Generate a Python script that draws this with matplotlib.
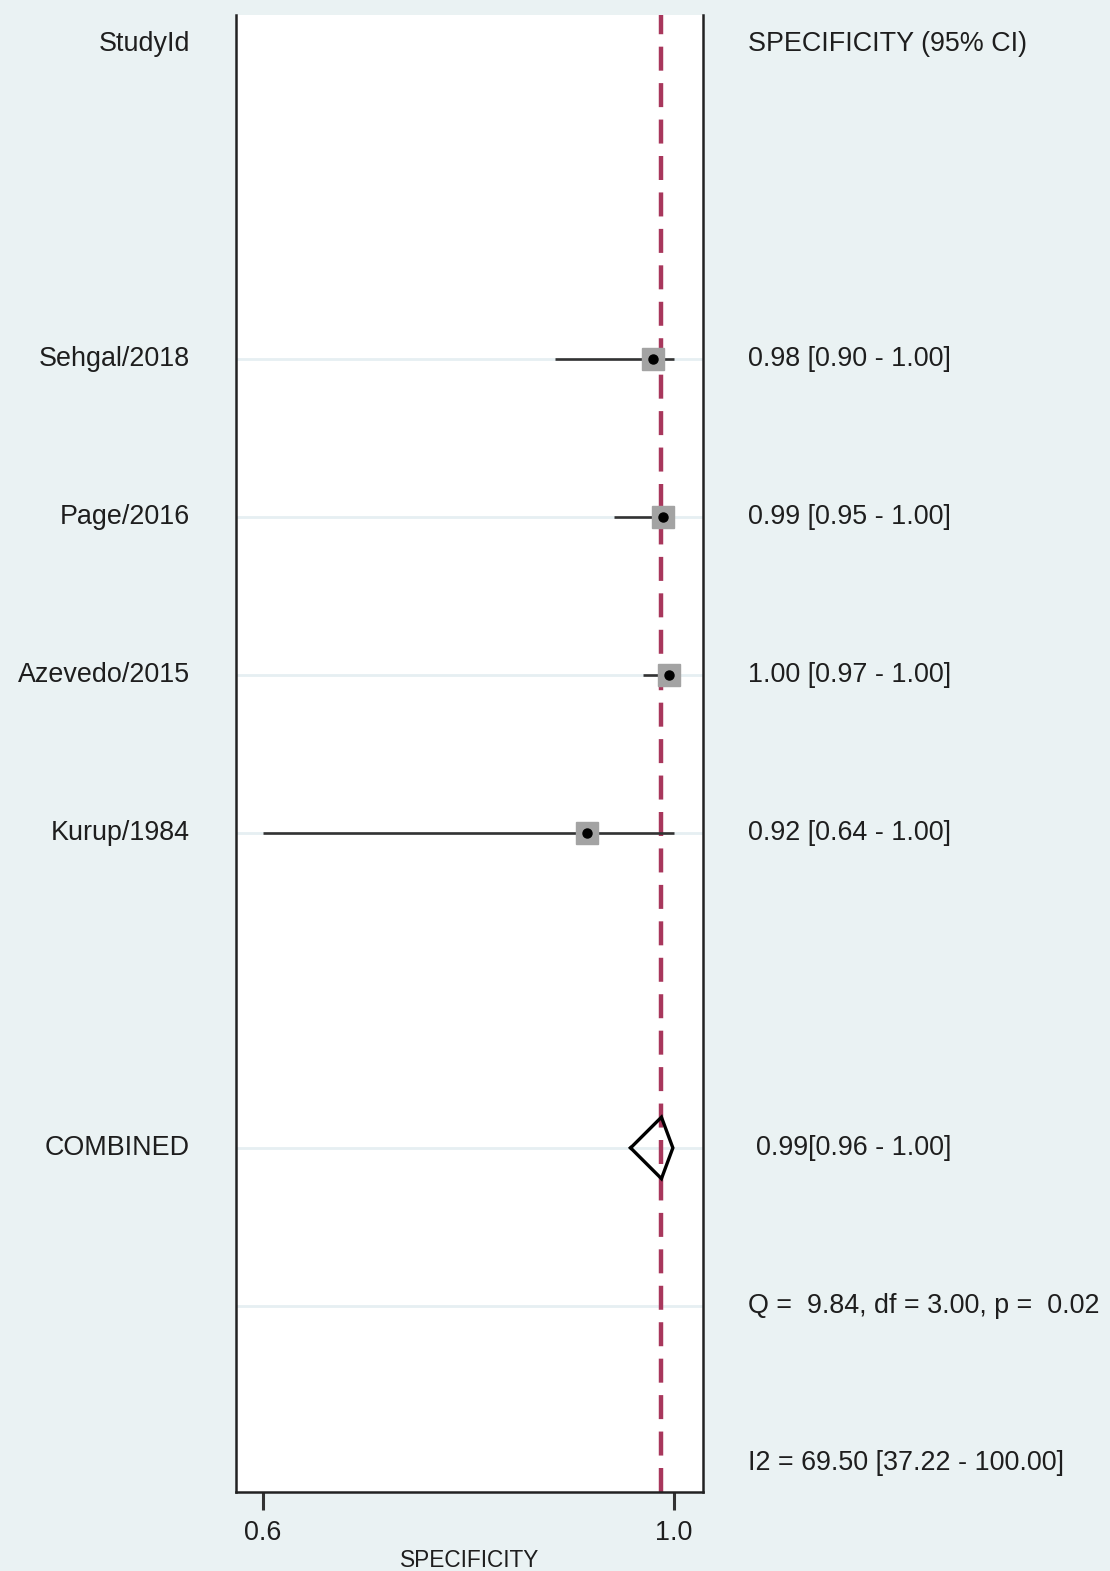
import matplotlib
matplotlib.use("Agg")
import matplotlib.pyplot as plt
from matplotlib.transforms import blended_transform_factory

plt.rcParams['font.family'] = ['Liberation Sans', 'DejaVu Sans']

# Study-level specificity estimates with 95% confidence limits
studies = ["Sehgal/2018", "Page/2016", "Azevedo/2015", "Kurup/1984"]
spec = [0.982, 0.990, 0.996, 0.924]
spec_lo = [0.896, 0.947, 0.973, 0.640]
spec_hi = [1.000, 1.000, 1.000, 1.000]

# Pooled (combined) estimate
pooled = 0.989
pooled_lo = 0.962
pooled_hi = 0.999

# Heterogeneity statistics
q_stat, q_df, q_p = 9.84, 3.00, 0.02
i2, i2_lo, i2_hi = 69.50, 37.22, 100.00

BG = "#EAF2F3"
TXT = "#1e1e1e"
FS = 19.4

W, H = 1110, 1571
fig = plt.figure(figsize=(W / 100, H / 100), dpi=100, facecolor=BG)

# plot box in pixel terms
left_px, right_px, top_px, bot_px = 236, 703, 15, 1492
ax = fig.add_axes([left_px / W, 1 - bot_px / H,
                   (right_px - left_px) / W, (bot_px - top_px) / H])
ax.set_facecolor("white")

# row layout: 0 header, 2..5 studies, 7 combined, 8 Q, 9 I2
study_rows = [2, 3, 4, 5]
comb_row, q_row, i2_row = 7, 8, 9
ax.set_ylim(9.182, -0.184)
ax.set_xlim(0.6163, 1.0254)

# light row guides
for r in study_rows + [comb_row, q_row]:
    ax.axhline(r, color="#E6EFF2", lw=2, zorder=1)

# pooled reference line
ax.axvline(pooled, color="#A8375C", lw=3.2, dashes=(5.4, 2.8), zorder=2)

# confidence intervals, weight boxes and point estimates
for r, est, lo, hi in zip(study_rows, spec, spec_lo, spec_hi):
    ax.plot([lo, hi], [r, r], color="#333333", lw=1.9, solid_capstyle="butt", zorder=3)
    ax.plot(est, r, marker="s", ms=16.5, color="#A3A3A3", mec="#A3A3A3", zorder=4)
    ax.plot(est, r, marker="o", ms=6.5, color="black", mec="black", zorder=5)

# pooled diamond
dh = 0.195
ax.plot([pooled_lo, pooled, pooled_hi, pooled, pooled_lo],
        [comb_row, comb_row - dh, comb_row, comb_row + dh, comb_row],
        color="black", lw=2.4, solid_joinstyle="miter", zorder=5)

# spines and ticks
ax.spines["top"].set_visible(False)
for s in ["left", "right", "bottom"]:
    ax.spines[s].set_linewidth(1.8)
    ax.spines[s].set_color("#222222")
ax.set_yticks([])
ticks = [min(spec_lo), 1.0]
ax.set_xticks(ticks)
ax.set_xticklabels([f"{t:.1f}" for t in ticks])
ax.tick_params(axis="x", direction="out", length=13, width=2.2, color="#333333",
               labelsize=FS, labelcolor=TXT, pad=7)
ax.set_xlabel("SPECIFICITY", fontsize=16.3, color=TXT, labelpad=2)

# side text columns
tr_l = blended_transform_factory(fig.transFigure, ax.transData)
lx = 190 / W
rx_end = 951 / W
rx_start = 748 / W

ax.text(lx, 0, "StudyId", transform=tr_l, ha="right", va="center", fontsize=FS, color=TXT)
ax.text(rx_start, 0, "SPECIFICITY (95% CI)", transform=tr_l, ha="left", va="center",
        fontsize=FS, color=TXT)
for r, name, est, lo, hi in zip(study_rows, studies, spec, spec_lo, spec_hi):
    ax.text(lx, r, name, transform=tr_l, ha="right", va="center", fontsize=FS, color=TXT)
    ax.text(rx_end, r, f"{est:.2f} [{lo:.2f} - {hi:.2f}]", transform=tr_l,
            ha="right", va="center", fontsize=FS, color=TXT)

ax.text(lx, comb_row, "COMBINED", transform=tr_l, ha="right", va="center", fontsize=FS, color=TXT)
ax.text(rx_end, comb_row, f"{pooled:.2f}[{pooled_lo:.2f} - {pooled_hi:.2f}]", transform=tr_l,
        ha="right", va="center", fontsize=FS, color=TXT)
ax.text(rx_start, q_row, f"Q =  {q_stat:.2f}, df = {q_df:.2f}, p =  {q_p:.2f}", transform=tr_l,
        ha="left", va="center", fontsize=FS, color=TXT)
ax.text(rx_start, i2_row, f"I2 = {i2:.2f} [{i2_lo:.2f} - {i2_hi:.2f}]", transform=tr_l,
        ha="left", va="center", fontsize=FS, color=TXT)

fig.savefig("out.png", dpi=100, facecolor=BG)
